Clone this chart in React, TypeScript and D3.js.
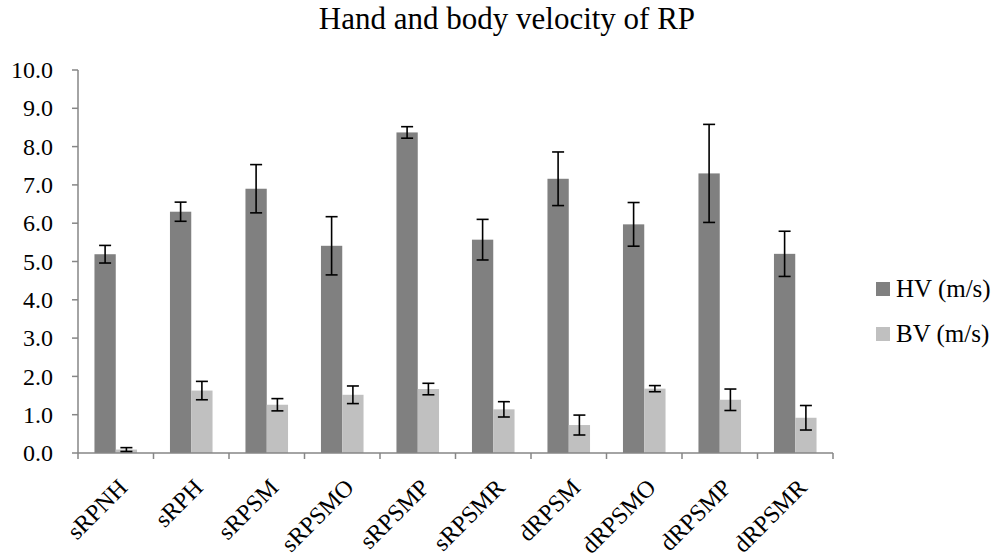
import React from 'react';
import * as d3 from 'd3';

// chart data
const categories = ['sRPNH', 'sRPH', 'sRPSM', 'sRPSMO', 'sRPSMP', 'sRPSMR', 'dRPSM', 'dRPSMO', 'dRPSMP', 'dRPSMR'];
const hvValues = [5.19, 6.30, 6.90, 5.41, 8.37, 5.57, 7.16, 5.97, 7.30, 5.20];
const hvErrors = [0.23, 0.25, 0.63, 0.76, 0.15, 0.53, 0.70, 0.57, 1.28, 0.59];
const bvValues = [0.09, 1.63, 1.26, 1.52, 1.67, 1.14, 0.73, 1.68, 1.39, 0.92];
const bvErrors = [0.05, 0.24, 0.16, 0.23, 0.15, 0.20, 0.26, 0.08, 0.28, 0.32];
const yTicks = [0, 1, 2, 3, 4, 5, 6, 7, 8, 9, 10];
const seriesNames = ['HV (m/s)', 'BV (m/s)'];
const seriesColors = ['#808080', '#c0c0c0'];

const W = 1003;
const H = 559;
const margin = { left: 78, right: 170, top: 70, bottom: 106 };
const textStyle = { fontFamily: 'Liberation Serif, Times New Roman, serif' };
const AXIS = '#868686';

export default function App() {
  const x = d3.scaleBand<string>()
    .domain(categories)
    .range([margin.left, W - margin.right]);
  const y = d3.scaleLinear()
    .domain([0, 10])
    .range([H - margin.bottom, margin.top]);

  const band = x.bandwidth();
  const barW = band * 0.282;
  const groupOffset = (band - barW * 2) / 2;

  const series = [
    { values: hvValues, errors: hvErrors },
    { values: bvValues, errors: bvErrors }
  ];

  return (
    <svg width={W} height={H} style={{ position: 'absolute', left: 0, top: 0 }}>
      <rect width={W} height={H} fill="#fff" />
      <text x={507} y={29} textAnchor="middle" fontSize={31} style={textStyle}>Hand and body velocity of RP</text>

      {/* y axis */}
      <line x1={margin.left} x2={margin.left} y1={y(10)} y2={y(0)} stroke={AXIS} strokeWidth={1.5} />
      {yTicks.map(t => (
        <g key={t}>
          <line x1={margin.left - 6} x2={margin.left} y1={y(t)} y2={y(t)} stroke={AXIS} strokeWidth={1.5} />
          <text x={53} y={y(t)} dy="0.34em" textAnchor="end" fontSize={24} style={textStyle}>{t.toFixed(1)}</text>
        </g>
      ))}

      {/* bars */}
      {series.map((s, si) => categories.map((c, i) => {
        const bx = (x(c) as number) + groupOffset + si * barW;
        return (
          <rect key={`${si}-${c}`} x={bx} y={y(s.values[i])} width={barW}
                height={y(0) - y(s.values[i])} fill={seriesColors[si]} />
        );
      }))}

      {/* x axis */}
      <line x1={margin.left} x2={W - margin.right} y1={y(0)} y2={y(0)} stroke={AXIS} strokeWidth={1.5} />
      {categories.concat(['']).map((c, i) => {
        const tx = margin.left + i * band;
        return <line key={i} x1={tx} x2={tx} y1={y(0)} y2={y(0) + 6} stroke={AXIS} strokeWidth={1.5} />;
      })}

      {/* error bars */}
      {series.map((s, si) => categories.map((c, i) => {
        const cx = (x(c) as number) + groupOffset + si * barW + barW / 2;
        const hi = y(s.values[i] + s.errors[i]);
        const lo = y(s.values[i] - s.errors[i]);
        return (
          <g key={`e${si}-${c}`} stroke="#000" strokeWidth={1.6}>
            <line x1={cx} x2={cx} y1={hi} y2={lo} />
            <line x1={cx - 6} x2={cx + 6} y1={hi} y2={hi} />
            <line x1={cx - 6} x2={cx + 6} y1={lo} y2={lo} />
          </g>
        );
      }))}

      {/* category labels */}
      {categories.map(c => {
        const cx = (x(c) as number) + band / 2;
        return (
          <text key={c} transform={`translate(${cx + 13},${y(0) + 36}) rotate(-45)`}
                textAnchor="end" fontSize={24} style={textStyle}>{c}</text>
        );
      })}

      {/* legend */}
      {seriesNames.map((n, i) => (
        <g key={n} transform={`translate(876,${282 + i * 45})`}>
          <rect width={14} height={14} fill={seriesColors[i]} />
          <text x={20} y={15} fontSize={25} style={textStyle}>{n}</text>
        </g>
      ))}
    </svg>
  );
}
